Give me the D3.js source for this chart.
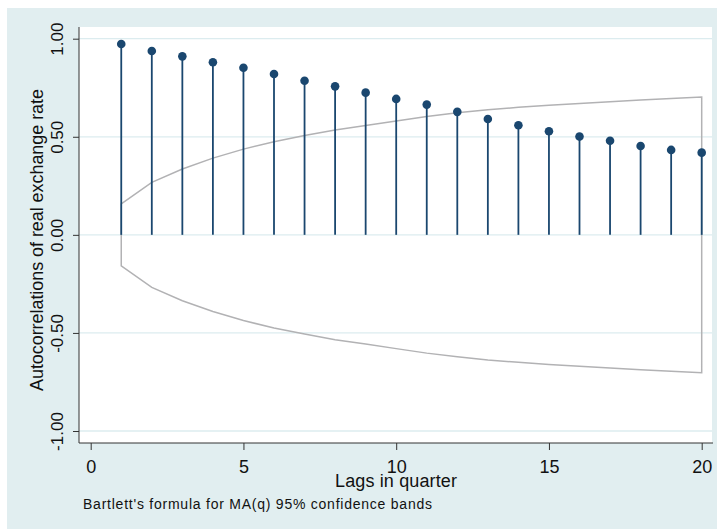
<!DOCTYPE html>
<meta charset="utf-8">
<body style="margin:0;background:#fff">
<script src="https://d3js.org/d3.v7.min.js"></script>
<script>

var width = 717,
    height = 530;

// autocorrelations, lags 1..20
var lags = d3.range(1, 21);
var acf = [0.973, 0.937, 0.910, 0.880, 0.852, 0.820, 0.786, 0.757, 0.725, 0.693,
           0.664, 0.627, 0.591, 0.559, 0.528, 0.501, 0.480, 0.453, 0.433, 0.419];
// Bartlett 95% band
var bandUpper = [0.158, 0.268, 0.336, 0.391, 0.437, 0.475, 0.506, 0.535, 0.557, 0.580,
                 0.603, 0.622, 0.638, 0.650, 0.661, 0.670, 0.679, 0.688, 0.695, 0.703];
var bandLower = [-0.158, -0.268, -0.336, -0.391, -0.437, -0.475, -0.506, -0.535, -0.557, -0.580,
                 -0.603, -0.622, -0.638, -0.650, -0.661, -0.670, -0.679, -0.688, -0.695, -0.703];

var xTicks = [0, 5, 10, 15, 20];
var yTicks = [-1, -0.5, 0, 0.5, 1];

var plot = {left: 79, right: 712, top: 27, bottom: 443};

var x = d3.scaleLinear().domain([0, 20]).range([90.7, 701.7]);
var y = d3.scaleLinear().domain([-1, 1]).range([431, 38.7]);

var svg = d3.select("body").append("svg")
    .attr("width", width)
    .attr("height", height)
    .style("display", "block")
    .style("font-family", "Arial, 'Liberation Sans', sans-serif");

// graph region
svg.append("rect")
    .attr("x", 7).attr("y", 8)
    .attr("width", width - 7).attr("height", 521)
    .attr("fill", "#e1eef0");

// plot region
svg.append("rect")
    .attr("x", plot.left).attr("y", plot.top)
    .attr("width", plot.right - plot.left).attr("height", plot.bottom - plot.top)
    .attr("fill", "#fff");

// grid
svg.append("g").selectAll("line")
    .data(yTicks)
  .enter().append("line")
    .attr("x1", plot.left).attr("x2", plot.right)
    .attr("y1", d => y(d)).attr("y2", d => y(d))
    .attr("stroke", "#dcecef")
    .attr("stroke-width", 1.3);

// confidence band outline
var band = lags.map((l, i) => [l, bandUpper[i]])
    .concat(lags.slice().reverse().map((l, i) => [l, bandLower[lags.length - 1 - i]]));
svg.append("path")
    .datum(band)
    .attr("d", d3.line().x(d => x(d[0])).y(d => y(d[1])).curve(d3.curveLinearClosed))
    .attr("fill", "none")
    .attr("stroke", "#b2b2b4")
    .attr("stroke-width", 1.5);

// stems
svg.append("g").selectAll("line")
    .data(acf)
  .enter().append("line")
    .attr("x1", (d, i) => x(lags[i])).attr("x2", (d, i) => x(lags[i]))
    .attr("y1", y(0)).attr("y2", d => y(d))
    .attr("stroke", "#1a476f")
    .attr("stroke-width", 1.8);

svg.append("g").selectAll("circle")
    .data(acf)
  .enter().append("circle")
    .attr("cx", (d, i) => x(lags[i]))
    .attr("cy", d => y(d))
    .attr("r", 4.3)
    .attr("fill", "#1a476f");

// axes
var fmt = d3.format(".2f");
var yAxis = svg.append("g")
    .attr("transform", "translate(" + plot.left + ",0)")
    .call(d3.axisLeft(y).tickValues(yTicks).tickSize(6).tickPadding(0)
      .tickFormat(d => fmt(d).replace("\u2212", "-")));
yAxis.select(".domain").attr("d", "M0," + plot.top + "V" + plot.bottom).attr("stroke", "#333");
yAxis.selectAll(".tick line").attr("stroke", "#333");
yAxis.selectAll(".tick text")
    .attr("x", 0).attr("y", 0).attr("dy", null)
    .attr("text-anchor", "middle")
    .attr("transform", "translate(-16,0) rotate(-90)")
    .style("font-size", "17px")
    .attr("fill", "#111");

var xAxis = svg.append("g")
    .attr("transform", "translate(0," + plot.bottom + ")")
    .call(d3.axisBottom(x).tickValues(xTicks).tickSize(7).tickFormat(d3.format("d")));
xAxis.select(".domain").attr("d", "M" + plot.left + ",0H" + (plot.right + 1)).attr("stroke", "#333");
xAxis.selectAll(".tick line").attr("stroke", "#333");
xAxis.selectAll(".tick text")
    .attr("y", 30).attr("dy", null)
    .style("font-size", "18px")
    .attr("fill", "#111");

// titles
svg.append("text")
    .attr("transform", "translate(43,240) rotate(-90)")
    .attr("text-anchor", "middle")
    .attr("textLength", 302)
    .attr("lengthAdjust", "spacing")
    .style("font-size", "18px")
    .attr("fill", "#111")
    .text("Autocorrelations of real exchange rate");

svg.append("text")
    .attr("x", 396).attr("y", 487)
    .attr("text-anchor", "middle")
    .attr("textLength", 122)
    .attr("lengthAdjust", "spacing")
    .style("font-size", "18px")
    .attr("fill", "#111")
    .text("Lags in quarter");

svg.append("text")
    .attr("x", 83).attr("y", 509)
    .attr("textLength", 349)
    .attr("lengthAdjust", "spacing")
    .style("font-size", "14px")
    .attr("fill", "#111")
    .text("Bartlett's formula for MA(q) 95% confidence bands");

</script>
